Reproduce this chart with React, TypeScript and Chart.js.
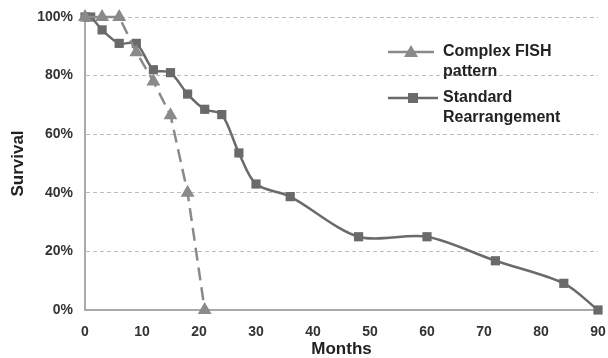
import React, { useEffect, useRef } from "react";
import { Chart, registerables } from "chart.js";

Chart.register(...registerables);

const fishMonths = [0, 3, 6, 9, 12, 15, 18, 21];
const fishSurvival = [100, 100, 100, 88, 78, 66.5, 40, 0];
const stdMonths = [0, 1, 3, 6, 9, 12, 15, 18, 21, 24, 27, 30, 36, 48, 60, 72, 84, 90];
const stdSurvival = [100, 100, 95.6, 91, 91, 82, 81, 73.7, 68.5, 66.7, 53.6, 43, 38.7, 25, 25, 16.8, 9.1, 0];
const seriesNames = [["Complex FISH", "pattern"], ["Standard", "Rearrangement"]];
const xTicks = [0, 10, 20, 30, 40, 50, 60, 70, 80, 90];
const yTicks = [0, 20, 40, 60, 80, 100];

const FISH_COLOR = "#8a8a8a";
const STD_COLOR = "#6a6a6a";
const FONT = "'Liberation Sans', Arial, sans-serif";

const legendPlugin = {
  id: "customLegend",
  afterDraw(chart: any) {
    const ctx = chart.ctx;
    ctx.save();
    const entries = [
      { y: 52, color: FISH_COLOR, style: "tri", x1: 388, x2: 434, mx: 411 },
      { y: 98, color: STD_COLOR, style: "rect", x1: 388, x2: 438, mx: 413 },
    ];
    entries.forEach((e, i) => {
      ctx.strokeStyle = e.color;
      ctx.fillStyle = e.color;
      ctx.lineWidth = 2.5;
      ctx.beginPath();
      ctx.moveTo(e.x1, e.y);
      ctx.lineTo(e.x2, e.y);
      ctx.stroke();
      ctx.beginPath();
      if (e.style === "tri") {
        ctx.moveTo(e.mx, e.y - 7);
        ctx.lineTo(e.mx + 7, e.y + 5);
        ctx.lineTo(e.mx - 7, e.y + 5);
        ctx.closePath();
      } else {
        ctx.rect(e.mx - 5, e.y - 5, 10, 10);
      }
      ctx.fill();
      ctx.fillStyle = "#222";
      ctx.font = `bold 16px ${FONT}`;
      ctx.textBaseline = "middle";
      ctx.textAlign = "left";
      const lines = seriesNames[i];
      lines.forEach((t, j) => {
        ctx.fillText(t, 443, e.y + j * 19.5);
      });
    });
    ctx.restore();
  },
};

export default function App() {
  const ref = useRef<HTMLCanvasElement | null>(null);
  useEffect(() => {
    if (!ref.current) return;
    const chart = new Chart(ref.current, {
      type: "line",
      data: {
        datasets: [
          {
            label: seriesNames[0].join(" "),
            data: fishMonths.map((m, i) => ({ x: m, y: fishSurvival[i] })),
            borderColor: FISH_COLOR,
            backgroundColor: FISH_COLOR,
            borderWidth: 2.5,
            borderDash: [13, 7],
            pointStyle: "triangle",
            pointRadius: 8,
            pointBorderWidth: 0,
            tension: 0,
            clip: false,
          },
          {
            label: seriesNames[1].join(" "),
            data: stdMonths.map((m, i) => ({ x: m, y: stdSurvival[i] })),
            borderColor: STD_COLOR,
            backgroundColor: STD_COLOR,
            borderWidth: 2.5,
            pointStyle: "rect",
            pointRadius: 6.5,
            pointBorderWidth: 0,
            tension: 0.3,
            clip: false,
          },
        ],
      },
      options: {
        animation: false,
        responsive: false,
        maintainAspectRatio: false,
        layout: { autoPadding: false, padding: { top: 17, right: 10, left: 0, bottom: 0 } },
        plugins: { legend: { display: false }, tooltip: { enabled: false } },
        scales: {
          x: {
            type: "linear",
            min: 0,
            max: 90,
            afterBuildTicks: (s: any) => {
              s.ticks = xTicks.map((v) => ({ value: v }));
            },
            afterFit: (s: any) => {
              s.height = 48;
              s.paddingLeft = 0;
              s.paddingRight = 0;
            },
            grid: { display: false },
            border: { display: true, color: "#aaaaaa", width: 2 },
            ticks: {
              color: "#333",
              font: { family: FONT, size: 14, weight: "bold" },
              padding: 6,
              maxRotation: 0,
            },
            title: {
              display: true,
              text: "Months",
              color: "#222",
              font: { family: FONT, size: 17, weight: "bold", lineHeight: 1 },
              padding: { top: 0, bottom: 0 },
            },
          },
          y: {
            min: 0,
            max: 100,
            afterBuildTicks: (s: any) => {
              s.ticks = yTicks.map((v) => ({ value: v }));
            },
            afterFit: (s: any) => {
              s.width = 85;
              s.paddingTop = 0;
              s.paddingBottom = 0;
            },
            grid: {
              color: "#bcbcbc",
              lineWidth: 1,
              drawTicks: false,
            },
            border: { display: true, color: "#aaaaaa", width: 2, dash: [4, 3] },
            ticks: {
              color: "#333",
              font: { family: FONT, size: 14, weight: "bold" },
              padding: 12,
              callback: (v: any) => v + "%",
            },
            title: {
              display: true,
              text: "Survival",
              color: "#222",
              font: { family: FONT, size: 17, weight: "bold", lineHeight: 1 },
              padding: { top: 10, bottom: 0 },
            },
          },
        },
      },
      plugins: [legendPlugin],
    } as any);
    return () => chart.destroy();
  }, []);
  return (
    <div style={{ position: "absolute", left: 0, top: 0, width: 608, height: 358, background: "#fff" }}>
      <canvas ref={ref} width={608} height={358} style={{ width: 608, height: 358 }} />
    </div>
  );
}
